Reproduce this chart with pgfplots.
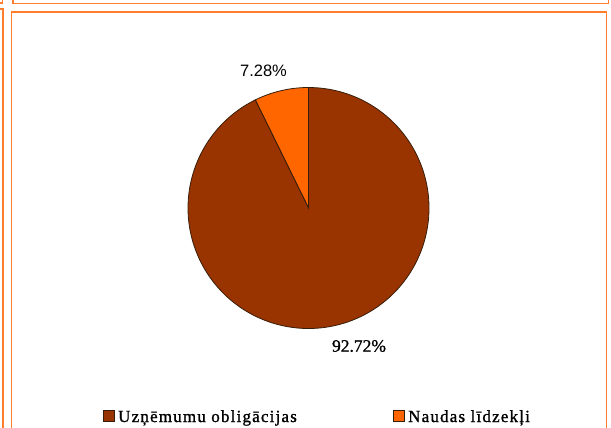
\documentclass[border=0pt]{standalone}
\usepackage{pgfplots}
\pgfplotsset{compat=1.18}
\usepackage{fontspec}
\setmainfont{Liberation Serif}
\newfontfamily\sansf{Liberation Sans}
\newfontfamily\serf[FakeBold=1]{Liberation Serif}
\newfontfamily\legfont[LetterSpace=7,FakeBold=1.2]{Liberation Serif}
\definecolor{slicebrown}{RGB}{153,51,0}
\definecolor{sliceorange}{RGB}{255,102,0}
\definecolor{frameorange}{RGB}{255,125,45}
\definecolor{edgec}{RGB}{55,30,10}
\def\shareA{7.28}
\def\shareB{92.72}
\pgfmathsetmacro\angA{90+\shareA*3.6}
\pgfmathsetmacro\angB{\angA+\shareB*3.6}
\begin{document}
\begin{tikzpicture}[x=1bp,y=1bp]
\useasboundingbox (0,0) rectangle (611,-427);
% frames
\begin{scope}[draw=frameorange,line width=1.4bp]
\draw (13,5) -- (13,-3.5) -- (608.5,-3.5) -- (608.5,5);
\draw (-5,-3) -- (2.5,-3) -- (2.5,5);
\draw (-5,-9) -- (3,-9) -- (3,-440);
\draw (11.7,-440) -- (11.7,-12) -- (606.6,-12) -- (606.6,-440);
\end{scope}
\begin{axis}[at={(308.5bp,-208bp)}, anchor=center,
  x=120.5bp, y=120.5bp,
  xmin=-1.1, xmax=1.1, ymin=-1.1, ymax=1.1,
  hide axis, clip=false]
\addplot[fill=sliceorange, draw=edgec, line width=0.8bp, domain=90:\angA, samples=40, smooth]
  ({cos(x)},{sin(x)}) -- (axis cs:0,0) -- cycle;
\addplot[fill=slicebrown, draw=edgec, line width=0.8bp, domain=\angA:\angB, samples=200, smooth]
  ({cos(x)},{sin(x)}) -- (axis cs:0,0) -- cycle;
\end{axis}
% labels
\node[font=\sansf\fontsize{16.5bp}{18bp}\selectfont, inner sep=0pt] at (263.5,-71) {7.28\%};
\node[font=\serf\fontsize{17.5bp}{19bp}\selectfont, inner sep=0pt] at (359,-346) {92.72\%};
% legend
\draw[edgec, line width=0.8bp, fill=slicebrown] (103,-410) rectangle (114.5,-421.5);
\node[anchor=base west, inner sep=0pt, font=\legfont\fontsize{17bp}{19bp}\selectfont] at (118,-422) {Uzņēmumu obligācijas};
\draw[edgec, line width=0.8bp, fill=sliceorange] (393,-410) rectangle (404.5,-421.5);
\node[anchor=base west, inner sep=0pt, font=\legfont\fontsize{17bp}{19bp}\selectfont] at (408,-422) {Naudas līdzekļi};
\end{tikzpicture}
\end{document}
